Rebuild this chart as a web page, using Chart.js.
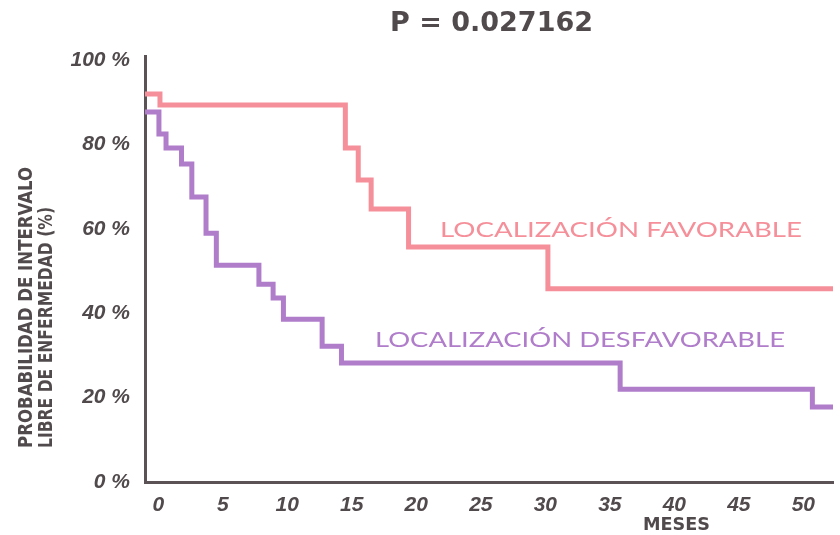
<!DOCTYPE html>
<html>
<head>
<meta charset="utf-8">
<script src="https://cdn.jsdelivr.net/npm/chart.js@4.4.1/dist/chart.umd.min.js"></script>
<style>
  body { margin: 0; background: #fff; }
  canvas { display: block; }
</style>
</head>
<body>
<canvas id="myChart" width="840" height="535"></canvas>
<script>
// meses / porcentaje
const favMonths = [-1.03, 0.13, 14.5, 15.5, 16.5, 19.4, 30.2, 52.3];
const favValues = [92.0, 89.4, 79.2, 71.6, 64.7, 55.7, 45.8, 45.8];
const desMonths = [-1.03, 0.05, 0.6, 1.8, 2.6, 3.7, 4.5, 7.8, 8.9, 9.7, 12.7, 14.2, 35.8, 50.7, 52.3];
const desValues = [87.7, 82.5, 79.2, 75.4, 67.6, 59.0, 51.4, 46.9, 43.6, 38.6, 32.2, 28.2, 22.0, 17.8, 17.8];
const xTicks = [0, 5, 10, 15, 20, 25, 30, 35, 40, 45, 50];
const yTicks = [0, 20, 40, 60, 80, 100];

const pink = '#f5909a';
const purple = '#b07dca';
const grey = '#514a4c';

const toPoints = (xs, ys) => xs.map((x, i) => ({ x: x, y: ys[i] }));

// texto escalado horizontalmente a un ancho dado
function fitText(ctx, text, x, y, w) {
    const m = ctx.measureText(text).width;
    ctx.save();
    ctx.translate(x, y);
    ctx.scale(w / m, 1);
    ctx.textAlign = 'left';
    ctx.textBaseline = 'middle';
    ctx.fillText(text, 0, 0);
    ctx.restore();
}

const textos = {
    id: 'textos',
    afterDraw(chart) {
        const ctx = chart.ctx;
        ctx.save();
        ctx.fillStyle = grey;
        ctx.font = 'bold 26px "DejaVu Sans"';
        fitText(ctx, 'P = 0.027162', 390, 24, 203);

        ctx.font = 'bold 18px "DejaVu Sans Condensed", "DejaVu Sans"';
        fitText(ctx, 'MESES', 643, 525, 67);

        ctx.save();
        ctx.rotate(-Math.PI / 2);
        ctx.font = 'bold 19px "DejaVu Sans Condensed", "DejaVu Sans"';
        fitText(ctx, 'PROBABILIDAD DE INTERVALO', -448, 27, 281);
        fitText(ctx, 'LIBRE DE ENFERMEDAD (%)', -448, 47, 241);
        ctx.restore();

        ctx.font = '21px Lato';
        ctx.fillStyle = pink;
        fitText(ctx, 'LOCALIZACIÓN FAVORABLE', 440, 230, 362);
        ctx.fillStyle = purple;
        fitText(ctx, 'LOCALIZACIÓN DESFAVORABLE', 375, 340, 410);
        ctx.restore();
    }
};

const tickFont = { family: 'Liberation Sans', size: 21, weight: 'bold', style: 'italic' };

const ctx = document.getElementById('myChart');
const myChart = new Chart(ctx, {
    type: 'line',
    data: {
        datasets: [{
            label: 'Localización favorable',
            data: toPoints(favMonths, favValues),
            borderColor: pink,
            borderWidth: 5,
            stepped: true,
            pointRadius: 0,
            fill: false
        }, {
            label: 'Localización desfavorable',
            data: toPoints(desMonths, desValues),
            borderColor: purple,
            borderWidth: 5,
            stepped: true,
            pointRadius: 0,
            fill: false
        }]
    },
    options: {
        responsive: false,
        devicePixelRatio: 1,
        animation: false,
        layout: { padding: { top: 56, right: 7, left: 0, bottom: 0 } },
        plugins: {
            legend: { display: false },
            title: { display: false },
            tooltip: { enabled: false }
        },
        scales: {
            x: {
                type: 'linear',
                min: -1.03,
                max: 52.3,
                afterBuildTicks: (axis) => { axis.ticks = xTicks.map(v => ({ value: v })); },
                afterFit: (scale) => { scale.height = 53; },
                grid: { display: false, drawTicks: false },
                border: { display: true, color: '#5a5254', width: 3 },
                ticks: { color: grey, font: tickFont, padding: 11, maxRotation: 0, autoSkip: false }
            },
            y: {
                type: 'linear',
                min: 0,
                max: 101,
                afterBuildTicks: (axis) => { axis.ticks = yTicks.map(v => ({ value: v })); },
                afterFit: (scale) => { scale.width = 145; },
                grid: { display: false, drawTicks: false },
                border: { display: true, color: '#5a5254', width: 3 },
                ticks: {
                    color: grey,
                    font: tickFont,
                    padding: 15,
                    callback: (v) => v + ' %'
                }
            }
        }
    },
    plugins: [textos]
});
</script>
</body>
</html>
